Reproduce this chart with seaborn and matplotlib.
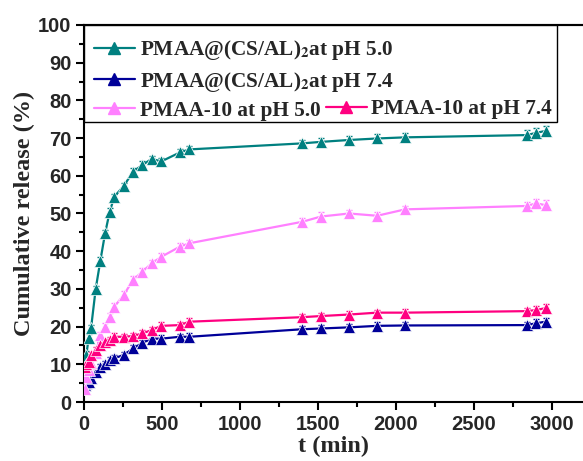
import matplotlib
matplotlib.use("Agg")
import matplotlib.pyplot as plt
import seaborn as sns
import pandas as pd
from matplotlib.patches import Rectangle
from matplotlib.ticker import MultipleLocator
from matplotlib.lines import Line2D

# ---- data ----
time_min = [5, 15, 30, 45, 75, 105, 135, 165, 195, 255, 315, 375, 435, 495,
            615, 675, 1400, 1520, 1700, 1880, 2060, 2840, 2900, 2960]

cs_al_ph50 = [9.0, 12.5, 17.0, 19.5, 30.0, 37.5, 44.7, 50.5, 54.5, 57.3, 61.1, 62.9,
              64.5, 63.8, 66.2, 67.0, 68.6, 69.0, 69.5, 69.9, 70.2, 70.8, 71.4, 71.9]
cs_al_ph74 = [4.5, 5.0, 5.4, 6.3, 8.0, 9.4, 10.2, 11.1, 11.6, 12.5, 14.2, 15.7,
              16.8, 16.8, 17.3, 17.3, 19.3, 19.5, 19.8, 20.2, 20.3, 20.4, 20.9, 21.3]
pmaa10_ph50 = [3.5, 6.7, 8.5, 10.3, 12.9, 17.8, 20.0, 22.6, 25.3, 28.4, 32.4, 34.6,
               36.8, 38.5, 41.2, 42.1, 47.8, 49.2, 50.0, 49.4, 51.1, 52.0, 52.7, 52.2]
pmaa10_ph74 = [9.4, 10.0, 10.7, 12.5, 13.8, 15.1, 16.0, 16.4, 17.3, 17.3, 17.5, 18.2,
               19.1, 20.2, 20.4, 21.3, 22.5, 22.8, 23.2, 23.7, 23.7, 24.1, 24.4, 24.9]

err_cs_al_ph50 = [0.8, 0.9, 1.0, 0.9, 0.8, 0.9, 1.0, 0.9, 0.8, 0.9, 1.0, 0.9,
                  0.8, 0.9, 1.0, 0.9, 1.0, 1.1, 1.0, 1.2, 1.1, 1.3, 1.2, 1.2]
err_cs_al_ph74 = [0.7, 0.8, 0.8, 0.9, 0.8, 0.7, 0.8, 0.9, 0.8, 0.8, 0.9, 0.8,
                  0.8, 0.9, 0.8, 0.9, 0.9, 1.0, 0.9, 0.9, 1.0, 0.9, 1.0, 1.1]
err_pmaa10_ph50 = [0.8, 0.9, 0.8, 0.9, 1.0, 0.9, 1.0, 0.9, 0.9, 1.0, 0.9, 1.0,
                   0.9, 1.0, 0.9, 1.0, 1.0, 1.1, 0.9, 1.1, 1.0, 1.1, 1.2, 1.3]
err_pmaa10_ph74 = [0.8, 0.8, 0.9, 0.8, 0.8, 0.9, 0.8, 0.8, 0.9, 0.8, 0.8, 0.9,
                   0.8, 0.9, 0.8, 0.9, 0.9, 0.8, 0.9, 0.8, 0.9, 0.9, 1.0, 1.1]

labels = ["PMAA@(CS/AL)$_{\\mathbf{2}}$at pH 5.0",
          "PMAA@(CS/AL)$_{\\mathbf{2}}$at pH 7.4",
          "PMAA-10 at pH 5.0",
          "PMAA-10 at pH 7.4"]
colors = ["#008080", "#000099", "#FF80FF", "#FF0080"]
series = [cs_al_ph50, cs_al_ph74, pmaa10_ph50, pmaa10_ph74]
errors = [err_cs_al_ph50, err_cs_al_ph74, err_pmaa10_ph50, err_pmaa10_ph74]

x_ticks = [0, 500, 1000, 1500, 2000, 2500, 3000]
y_ticks = [0, 10, 20, 30, 40, 50, 60, 70, 80, 90, 100]

# ---- style ----
sns.set_style("ticks")
plt.rcParams["font.family"] = ["Liberation Sans", "DejaVu Sans"]
plt.rcParams["mathtext.fontset"] = "stix"

fig = plt.figure(figsize=(5.83, 4.61), dpi=100)
ax = fig.add_axes([84 / 583, 1 - 402 / 461, 1 - 84 / 583, (402 - 25) / 461])

frames = []
for lab, ys in zip(labels, series):
    frames.append(pd.DataFrame({"t": time_min, "release": ys, "sample": lab}))
df = pd.concat(frames, ignore_index=True)

sns.lineplot(data=df, x="t", y="release", hue="sample", palette=colors,
             style="sample", markers=["^"] * 4, dashes=False, markersize=9,
             markeredgewidth=0.5, linewidth=1.6, ax=ax, legend=False, zorder=3)
for ys, es, c in zip(series, errors, colors):
    ax.errorbar(time_min, ys, yerr=es, fmt="none", ecolor=c, elinewidth=1.0,
                capsize=2.5, capthick=1.0, zorder=2)

ax.set_xlim(0, 3200)
ax.set_ylim(0, 100)
ax.set_xticks(x_ticks)
ax.set_yticks(y_ticks)
ax.xaxis.set_minor_locator(MultipleLocator(250))
ax.yaxis.set_minor_locator(MultipleLocator(5))

for lab in ax.get_xticklabels() + ax.get_yticklabels():
    lab.set_fontweight("bold")
    lab.set_fontsize(14.5)
ax.tick_params(axis="both", which="major", direction="out", length=6, width=1.5,
               color="black", pad=3)
ax.tick_params(axis="both", which="minor", direction="out", length=3.5, width=1.5,
               color="black")

for s in ["left", "bottom", "top"]:
    ax.spines[s].set_linewidth(1.5)
    ax.spines[s].set_color("black")
ax.spines["right"].set_visible(False)

secx = ax.secondary_xaxis("top")
secx.set_xticks(x_ticks)
secx.xaxis.set_minor_locator(MultipleLocator(250))
secx.tick_params(which="both", direction="in", length=3, width=1.2, labeltop=False)
secx.spines["top"].set_linewidth(1.5)

serif_bold = {"family": ["Liberation Serif", "DejaVu Serif"], "weight": "bold"}
ax.set_xlabel("t (min)", fontdict=dict(serif_bold, size=17.5), labelpad=2)
ax.set_ylabel("Cumulative release (%)", fontdict=dict(serif_bold, size=17.5), labelpad=2)

# ---- legend ----
handles = [Line2D([], [], color=c, marker="^", markersize=9, lw=1.6) for c in colors]
leg_prop = {"family": ["Liberation Serif", "DejaVu Serif"], "weight": "bold", "size": 15.3}

rect = Rectangle((0, (402 - 122) / 377), (557 - 84) / 499, 1 - (402 - 122) / 377,
                 transform=ax.transAxes, facecolor="white", edgecolor="black",
                 lw=1.0, zorder=4)
ax.add_patch(rect)

leg1 = ax.legend(handles[:3], labels[:3], loc="upper left",
                 bbox_to_anchor=(0.012, 0.976), frameon=False, prop=leg_prop,
                 handlelength=1.9, handletextpad=0.25, labelspacing=0.34,
                 borderpad=0.2, borderaxespad=0)
leg1.set_zorder(5)
ax.add_artist(leg1)
leg2 = ax.legend(handles[3:], labels[3:], loc="upper left",
                 bbox_to_anchor=((322 - 84) / 499, (402 - 95) / 377),
                 frameon=False, prop=leg_prop, handlelength=1.9, handletextpad=0.2,
                 borderpad=0.2, borderaxespad=0)
leg2.set_zorder(5)

fig.savefig("out.png", dpi=100)
